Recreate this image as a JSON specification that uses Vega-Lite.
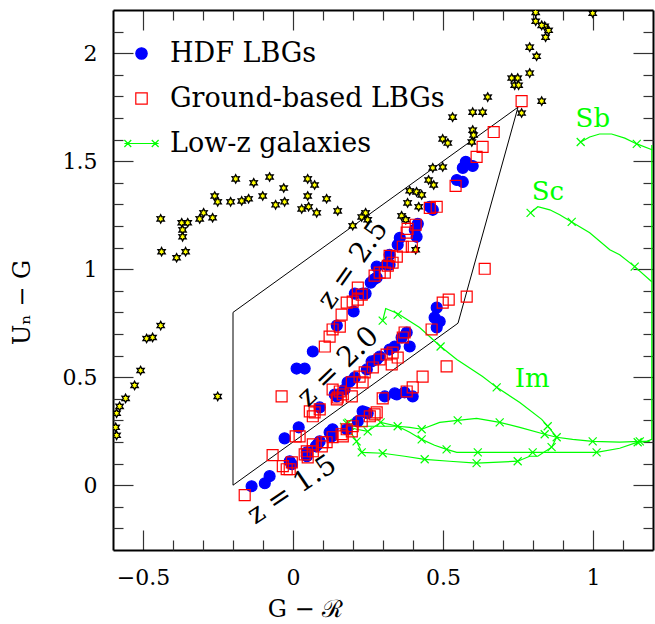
{
  "$schema": "https://vega.github.io/schema/vega-lite/v6.json",
  "width": 540,
  "height": 540,
  "autosize": {"type": "none"},
  "padding": {"left": 113, "top": 10, "right": 2, "bottom": 74},
  "background": "white",
  "config": {
    "view": {"stroke": null},
    "axis": {
      "grid": false,
      "ticks": true,
      "domainColor": "black",
      "domainWidth": 2,
      "tickColor": "#333333",
      "tickWidth": 1.2,
      "labelFont": "DejaVu Serif",
      "labelFontSize": 22,
      "labelColor": "black",
      "titleFont": "DejaVu Serif",
      "titleFontSize": 24,
      "titleFontWeight": "normal",
      "titleColor": "black",
      "labelOverlap": false,
      "labelFlush": false
    },
    "legend": {
      "orient": "none",
      "legendX": 15,
      "legendY": 30,
      "padding": 0,
      "labelFont": "DejaVu Serif",
      "labelFontSize": 27,
      "labelColor": "black",
      "labelOffset": 15,
      "labelLimit": 500,
      "symbolSize": 130,
      "symbolStrokeWidth": 1.2,
      "symbolOpacity": 1,
      "rowPadding": 17
    }
  },
  "datasets": {
    "poly": [
      {"i": 0, "x": -0.2, "y": 0.0},
      {"i": 1, "x": -0.2, "y": 0.8},
      {"i": 2, "x": 0.75, "y": 1.75},
      {"i": 3, "x": 0.55, "y": 0.75},
      {"i": 4, "x": -0.2, "y": 0.0}
    ],
    "stars": [
      {"x": -0.441, "y": 1.233}, {"x": -0.438, "y": 1.081}, {"x": -0.388, "y": 1.053}, {"x": -0.358, "y": 1.081},
      {"x": -0.371, "y": 1.215}, {"x": -0.351, "y": 1.215}, {"x": -0.368, "y": 1.182}, {"x": -0.368, "y": 1.150},
      {"x": -0.311, "y": 1.233}, {"x": -0.298, "y": 1.261}, {"x": -0.268, "y": 1.238}, {"x": -0.261, "y": 1.339},
      {"x": -0.251, "y": 1.312}, {"x": -0.208, "y": 1.312}, {"x": -0.191, "y": 1.418}, {"x": -0.171, "y": 1.316},
      {"x": -0.148, "y": 1.326}, {"x": -0.131, "y": 1.400}, {"x": -0.101, "y": 1.339}, {"x": -0.078, "y": 1.427},
      {"x": -0.058, "y": 1.298}, {"x": -0.031, "y": 1.376}, {"x": -0.028, "y": 1.312}, {"x": 0.029, "y": 1.279},
      {"x": 0.049, "y": 1.418}, {"x": 0.072, "y": 1.390}, {"x": 0.049, "y": 1.339}, {"x": 0.052, "y": 1.289},
      {"x": 0.079, "y": 1.261}, {"x": 0.112, "y": 1.326}, {"x": 0.149, "y": 1.270}, {"x": 0.199, "y": 1.201},
      {"x": 0.229, "y": 1.242}, {"x": 0.242, "y": 1.261}, {"x": 0.249, "y": 1.229}, {"x": -0.441, "y": 0.739},
      {"x": -0.488, "y": 0.679}, {"x": -0.468, "y": 0.684}, {"x": -0.508, "y": 0.531}, {"x": -0.528, "y": 0.462},
      {"x": -0.558, "y": 0.402}, {"x": -0.578, "y": 0.365}, {"x": -0.588, "y": 0.333}, {"x": -0.591, "y": 0.268},
      {"x": -0.588, "y": 0.231}, {"x": -0.251, "y": 0.411}, {"x": 0.362, "y": 1.247}, {"x": 0.376, "y": 1.229},
      {"x": 0.382, "y": 1.307}, {"x": 0.419, "y": 1.289}, {"x": 0.389, "y": 1.363}, {"x": 0.412, "y": 1.358},
      {"x": 0.429, "y": 1.344}, {"x": 0.452, "y": 1.413}, {"x": 0.469, "y": 1.390}, {"x": 0.466, "y": 1.469},
      {"x": 0.499, "y": 1.473}, {"x": 0.499, "y": 1.603}, {"x": 0.516, "y": 1.584}, {"x": 0.599, "y": 1.644},
      {"x": 0.602, "y": 1.621}, {"x": 0.596, "y": 1.589}, {"x": 0.532, "y": 1.704}, {"x": 0.599, "y": 1.727},
      {"x": 0.632, "y": 1.727}, {"x": 0.649, "y": 1.797}, {"x": 0.762, "y": 1.723}, {"x": 0.829, "y": 1.778},
      {"x": 0.729, "y": 1.885}, {"x": 0.749, "y": 1.885}, {"x": 0.739, "y": 1.852}, {"x": 0.752, "y": 1.852},
      {"x": 0.789, "y": 1.908}, {"x": 0.789, "y": 2.028}, {"x": 0.812, "y": 1.986}, {"x": 0.842, "y": 2.074},
      {"x": 0.852, "y": 2.106}, {"x": 0.839, "y": 2.125}, {"x": 0.829, "y": 2.129}, {"x": 0.809, "y": 2.148},
      {"x": 0.809, "y": 2.189}, {"x": 0.999, "y": 2.185}, {"x": 0.409, "y": 1.090}, {"x": 0.406, "y": 1.192}
    ],
    "lbg": [
      {"sample": "HDF LBGs", "x": -0.138, "y": -0.005}, {"sample": "HDF LBGs", "x": -0.094, "y": 0.009},
      {"sample": "HDF LBGs", "x": -0.078, "y": 0.042}, {"sample": "HDF LBGs", "x": -0.004, "y": 0.097},
      {"sample": "HDF LBGs", "x": 0.046, "y": 0.134}, {"sample": "HDF LBGs", "x": 0.076, "y": 0.180},
      {"sample": "HDF LBGs", "x": 0.089, "y": 0.203}, {"sample": "HDF LBGs", "x": 0.122, "y": 0.245},
      {"sample": "HDF LBGs", "x": 0.132, "y": 0.259}, {"sample": "HDF LBGs", "x": 0.082, "y": 0.189},
      {"sample": "HDF LBGs", "x": 0.046, "y": 0.152}, {"sample": "HDF LBGs", "x": -0.011, "y": 0.111},
      {"sample": "HDF LBGs", "x": 0.129, "y": 0.226}, {"sample": "HDF LBGs", "x": 0.179, "y": 0.259},
      {"sample": "HDF LBGs", "x": 0.216, "y": 0.296}, {"sample": "HDF LBGs", "x": 0.249, "y": 0.333},
      {"sample": "HDF LBGs", "x": 0.232, "y": 0.342}, {"sample": "HDF LBGs", "x": 0.242, "y": 0.337},
      {"sample": "HDF LBGs", "x": 0.306, "y": 0.411}, {"sample": "HDF LBGs", "x": 0.339, "y": 0.425},
      {"sample": "HDF LBGs", "x": 0.372, "y": 0.430}, {"sample": "HDF LBGs", "x": 0.399, "y": 0.411},
      {"sample": "HDF LBGs", "x": 0.346, "y": 0.420}, {"sample": "HDF LBGs", "x": -0.028, "y": 0.217},
      {"sample": "HDF LBGs", "x": 0.019, "y": 0.268}, {"sample": "HDF LBGs", "x": 0.089, "y": 0.360},
      {"sample": "HDF LBGs", "x": 0.146, "y": 0.411}, {"sample": "HDF LBGs", "x": 0.172, "y": 0.443},
      {"sample": "HDF LBGs", "x": 0.189, "y": 0.480}, {"sample": "HDF LBGs", "x": 0.139, "y": 0.420},
      {"sample": "HDF LBGs", "x": 0.182, "y": 0.476}, {"sample": "HDF LBGs", "x": 0.246, "y": 0.536},
      {"sample": "HDF LBGs", "x": 0.279, "y": 0.582}, {"sample": "HDF LBGs", "x": 0.289, "y": 0.596},
      {"sample": "HDF LBGs", "x": 0.322, "y": 0.628}, {"sample": "HDF LBGs", "x": 0.339, "y": 0.642},
      {"sample": "HDF LBGs", "x": 0.379, "y": 0.707}, {"sample": "HDF LBGs", "x": 0.389, "y": 0.642},
      {"sample": "HDF LBGs", "x": 0.362, "y": 0.684}, {"sample": "HDF LBGs", "x": 0.012, "y": 0.540},
      {"sample": "HDF LBGs", "x": 0.039, "y": 0.540}, {"sample": "HDF LBGs", "x": 0.479, "y": 0.822},
      {"sample": "HDF LBGs", "x": 0.472, "y": 0.776}, {"sample": "HDF LBGs", "x": 0.489, "y": 0.758},
      {"sample": "HDF LBGs", "x": 0.479, "y": 0.730}, {"sample": "HDF LBGs", "x": 0.206, "y": 0.499},
      {"sample": "HDF LBGs", "x": 0.262, "y": 0.573}, {"sample": "HDF LBGs", "x": 0.066, "y": 0.619},
      {"sample": "HDF LBGs", "x": 0.146, "y": 0.739}, {"sample": "HDF LBGs", "x": 0.202, "y": 0.804},
      {"sample": "HDF LBGs", "x": 0.206, "y": 0.887}, {"sample": "HDF LBGs", "x": 0.232, "y": 0.887},
      {"sample": "HDF LBGs", "x": 0.242, "y": 0.887}, {"sample": "HDF LBGs", "x": 0.259, "y": 0.938},
      {"sample": "HDF LBGs", "x": 0.269, "y": 0.952}, {"sample": "HDF LBGs", "x": 0.279, "y": 1.012},
      {"sample": "HDF LBGs", "x": 0.279, "y": 0.961}, {"sample": "HDF LBGs", "x": 0.312, "y": 1.021},
      {"sample": "HDF LBGs", "x": 0.322, "y": 1.067}, {"sample": "HDF LBGs", "x": 0.349, "y": 1.113},
      {"sample": "HDF LBGs", "x": 0.356, "y": 1.145}, {"sample": "HDF LBGs", "x": 0.406, "y": 1.182},
      {"sample": "HDF LBGs", "x": 0.412, "y": 1.150}, {"sample": "HDF LBGs", "x": 0.416, "y": 1.210},
      {"sample": "HDF LBGs", "x": 0.456, "y": 1.289}, {"sample": "HDF LBGs", "x": 0.466, "y": 1.275},
      {"sample": "HDF LBGs", "x": 0.546, "y": 1.413}, {"sample": "HDF LBGs", "x": 0.566, "y": 1.404},
      {"sample": "HDF LBGs", "x": 0.566, "y": 1.469}, {"sample": "HDF LBGs", "x": 0.576, "y": 1.497},
      {"sample": "HDF LBGs", "x": 0.599, "y": 1.478}, {"sample": "HDF LBGs", "x": 0.322, "y": 1.021},
      {"sample": "Ground-based LBGs", "x": -0.161, "y": -0.046}, {"sample": "Ground-based LBGs", "x": -0.038, "y": 0.411},
      {"sample": "Ground-based LBGs", "x": -0.068, "y": 0.139}, {"sample": "Ground-based LBGs", "x": -0.034, "y": 0.088},
      {"sample": "Ground-based LBGs", "x": -0.011, "y": 0.074}, {"sample": "Ground-based LBGs", "x": -0.004, "y": 0.106},
      {"sample": "Ground-based LBGs", "x": -0.021, "y": 0.074}, {"sample": "Ground-based LBGs", "x": 0.039, "y": 0.143},
      {"sample": "Ground-based LBGs", "x": 0.049, "y": 0.129}, {"sample": "Ground-based LBGs", "x": 0.066, "y": 0.157},
      {"sample": "Ground-based LBGs", "x": 0.096, "y": 0.180}, {"sample": "Ground-based LBGs", "x": 0.112, "y": 0.199},
      {"sample": "Ground-based LBGs", "x": 0.132, "y": 0.222}, {"sample": "Ground-based LBGs", "x": 0.162, "y": 0.236},
      {"sample": "Ground-based LBGs", "x": 0.179, "y": 0.259}, {"sample": "Ground-based LBGs", "x": 0.199, "y": 0.273},
      {"sample": "Ground-based LBGs", "x": 0.229, "y": 0.296}, {"sample": "Ground-based LBGs", "x": 0.256, "y": 0.319},
      {"sample": "Ground-based LBGs", "x": 0.279, "y": 0.337}, {"sample": "Ground-based LBGs", "x": 0.099, "y": 0.199},
      {"sample": "Ground-based LBGs", "x": 0.066, "y": 0.189}, {"sample": "Ground-based LBGs", "x": 0.046, "y": 0.157},
      {"sample": "Ground-based LBGs", "x": 0.166, "y": 0.226}, {"sample": "Ground-based LBGs", "x": 0.196, "y": 0.249},
      {"sample": "Ground-based LBGs", "x": 0.272, "y": 0.328}, {"sample": "Ground-based LBGs", "x": 0.299, "y": 0.402},
      {"sample": "Ground-based LBGs", "x": 0.379, "y": 0.434}, {"sample": "Ground-based LBGs", "x": 0.399, "y": 0.453},
      {"sample": "Ground-based LBGs", "x": 0.432, "y": 0.503}, {"sample": "Ground-based LBGs", "x": 0.512, "y": 0.550},
      {"sample": "Ground-based LBGs", "x": 0.022, "y": 0.226}, {"sample": "Ground-based LBGs", "x": 0.009, "y": 0.226},
      {"sample": "Ground-based LBGs", "x": 0.056, "y": 0.342}, {"sample": "Ground-based LBGs", "x": 0.072, "y": 0.337},
      {"sample": "Ground-based LBGs", "x": 0.089, "y": 0.351}, {"sample": "Ground-based LBGs", "x": 0.066, "y": 0.319},
      {"sample": "Ground-based LBGs", "x": 0.146, "y": 0.397}, {"sample": "Ground-based LBGs", "x": 0.166, "y": 0.420},
      {"sample": "Ground-based LBGs", "x": 0.156, "y": 0.434}, {"sample": "Ground-based LBGs", "x": 0.196, "y": 0.476},
      {"sample": "Ground-based LBGs", "x": 0.232, "y": 0.476}, {"sample": "Ground-based LBGs", "x": 0.132, "y": 0.443},
      {"sample": "Ground-based LBGs", "x": 0.149, "y": 0.406}, {"sample": "Ground-based LBGs", "x": 0.196, "y": 0.411},
      {"sample": "Ground-based LBGs", "x": 0.222, "y": 0.503}, {"sample": "Ground-based LBGs", "x": 0.239, "y": 0.522},
      {"sample": "Ground-based LBGs", "x": 0.266, "y": 0.545}, {"sample": "Ground-based LBGs", "x": 0.289, "y": 0.582},
      {"sample": "Ground-based LBGs", "x": 0.312, "y": 0.605}, {"sample": "Ground-based LBGs", "x": 0.332, "y": 0.614},
      {"sample": "Ground-based LBGs", "x": 0.329, "y": 0.559}, {"sample": "Ground-based LBGs", "x": 0.349, "y": 0.591},
      {"sample": "Ground-based LBGs", "x": 0.366, "y": 0.684}, {"sample": "Ground-based LBGs", "x": 0.372, "y": 0.707},
      {"sample": "Ground-based LBGs", "x": 0.462, "y": 0.721}, {"sample": "Ground-based LBGs", "x": 0.499, "y": 0.845},
      {"sample": "Ground-based LBGs", "x": 0.519, "y": 0.859}, {"sample": "Ground-based LBGs", "x": 0.579, "y": 0.873},
      {"sample": "Ground-based LBGs", "x": 0.639, "y": 1.002}, {"sample": "Ground-based LBGs", "x": 0.106, "y": 0.642},
      {"sample": "Ground-based LBGs", "x": 0.122, "y": 0.688}, {"sample": "Ground-based LBGs", "x": 0.132, "y": 0.721},
      {"sample": "Ground-based LBGs", "x": 0.156, "y": 0.734}, {"sample": "Ground-based LBGs", "x": 0.162, "y": 0.790},
      {"sample": "Ground-based LBGs", "x": 0.179, "y": 0.845}, {"sample": "Ground-based LBGs", "x": 0.199, "y": 0.850},
      {"sample": "Ground-based LBGs", "x": 0.216, "y": 0.859}, {"sample": "Ground-based LBGs", "x": 0.216, "y": 0.915},
      {"sample": "Ground-based LBGs", "x": 0.229, "y": 0.882}, {"sample": "Ground-based LBGs", "x": 0.272, "y": 0.970},
      {"sample": "Ground-based LBGs", "x": 0.289, "y": 0.984}, {"sample": "Ground-based LBGs", "x": 0.306, "y": 0.984},
      {"sample": "Ground-based LBGs", "x": 0.316, "y": 1.016}, {"sample": "Ground-based LBGs", "x": 0.332, "y": 1.030},
      {"sample": "Ground-based LBGs", "x": 0.322, "y": 1.062}, {"sample": "Ground-based LBGs", "x": 0.346, "y": 1.058},
      {"sample": "Ground-based LBGs", "x": 0.366, "y": 1.104}, {"sample": "Ground-based LBGs", "x": 0.379, "y": 1.169},
      {"sample": "Ground-based LBGs", "x": 0.396, "y": 1.104}, {"sample": "Ground-based LBGs", "x": 0.382, "y": 1.187},
      {"sample": "Ground-based LBGs", "x": 0.409, "y": 1.206}, {"sample": "Ground-based LBGs", "x": 0.456, "y": 1.284},
      {"sample": "Ground-based LBGs", "x": 0.479, "y": 1.289}, {"sample": "Ground-based LBGs", "x": 0.542, "y": 1.386},
      {"sample": "Ground-based LBGs", "x": 0.612, "y": 1.520}, {"sample": "Ground-based LBGs", "x": 0.632, "y": 1.566},
      {"sample": "Ground-based LBGs", "x": 0.669, "y": 1.635}, {"sample": "Ground-based LBGs", "x": 0.762, "y": 1.778}
    ],
    "tracks": [
      {"track": "Sb", "i": 0, "x": 0.959, "y": 1.589}, {"track": "Sb", "i": 1, "x": 0.989, "y": 1.612},
      {"track": "Sb", "i": 2, "x": 1.022, "y": 1.626}, {"track": "Sb", "i": 3, "x": 1.062, "y": 1.626},
      {"track": "Sb", "i": 4, "x": 1.106, "y": 1.607}, {"track": "Sb", "i": 5, "x": 1.146, "y": 1.580},
      {"track": "Sb", "i": 6, "x": 1.199, "y": 1.552},
      {"track": "Sc", "i": 0, "x": 0.792, "y": 1.261}, {"track": "Sc", "i": 1, "x": 0.816, "y": 1.289},
      {"track": "Sc", "i": 2, "x": 0.856, "y": 1.275}, {"track": "Sc", "i": 3, "x": 0.889, "y": 1.252},
      {"track": "Sc", "i": 4, "x": 0.929, "y": 1.219}, {"track": "Sc", "i": 5, "x": 0.989, "y": 1.169},
      {"track": "Sc", "i": 6, "x": 1.056, "y": 1.090}, {"track": "Sc", "i": 7, "x": 1.089, "y": 1.067},
      {"track": "Sc", "i": 8, "x": 1.139, "y": 1.012}, {"track": "Sc", "i": 9, "x": 1.196, "y": 0.942},
      {"track": "Im", "i": 0, "x": 0.299, "y": 0.762}, {"track": "Im", "i": 1, "x": 0.309, "y": 0.818},
      {"track": "Im", "i": 2, "x": 0.349, "y": 0.795}, {"track": "Im", "i": 3, "x": 0.422, "y": 0.730},
      {"track": "Im", "i": 4, "x": 0.492, "y": 0.642}, {"track": "Im", "i": 5, "x": 0.546, "y": 0.582},
      {"track": "Im", "i": 6, "x": 0.632, "y": 0.503}, {"track": "Im", "i": 7, "x": 0.679, "y": 0.453},
      {"track": "Im", "i": 8, "x": 0.756, "y": 0.383}, {"track": "Im", "i": 9, "x": 0.829, "y": 0.305},
      {"track": "Im", "i": 10, "x": 0.849, "y": 0.273}, {"track": "Im", "i": 11, "x": 0.879, "y": 0.222},
      {"track": "Im", "i": 12, "x": 0.932, "y": 0.212}, {"track": "Im", "i": 13, "x": 0.999, "y": 0.203},
      {"track": "Im", "i": 14, "x": 1.089, "y": 0.199}, {"track": "Im", "i": 15, "x": 1.156, "y": 0.203},
      {"track": "Im", "i": 16, "x": 1.179, "y": 0.203}, {"track": "Im", "i": 17, "x": 1.196, "y": 0.212},
      {"track": "Im", "i": 18, "x": 1.196, "y": 1.575},
      {"track": "M", "i": 0, "x": 0.179, "y": 0.273}, {"track": "M", "i": 1, "x": 0.212, "y": 0.259},
      {"track": "M", "i": 2, "x": 0.249, "y": 0.249}, {"track": "M", "i": 3, "x": 0.292, "y": 0.291},
      {"track": "M", "i": 4, "x": 0.349, "y": 0.273}, {"track": "M", "i": 5, "x": 0.389, "y": 0.268},
      {"track": "M", "i": 6, "x": 0.429, "y": 0.259}, {"track": "M", "i": 7, "x": 0.489, "y": 0.291},
      {"track": "M", "i": 8, "x": 0.549, "y": 0.300}, {"track": "M", "i": 9, "x": 0.612, "y": 0.309},
      {"track": "M", "i": 10, "x": 0.689, "y": 0.291}, {"track": "M", "i": 11, "x": 0.756, "y": 0.268},
      {"track": "M", "i": 12, "x": 0.839, "y": 0.236}, {"track": "M", "i": 13, "x": 0.879, "y": 0.222},
      {"track": "F", "i": 0, "x": 0.179, "y": 0.273}, {"track": "F", "i": 1, "x": 0.349, "y": 0.273},
      {"track": "F", "i": 2, "x": 0.389, "y": 0.245}, {"track": "F", "i": 3, "x": 0.429, "y": 0.212},
      {"track": "F", "i": 4, "x": 0.472, "y": 0.185}, {"track": "F", "i": 5, "x": 0.512, "y": 0.166},
      {"track": "F", "i": 6, "x": 0.546, "y": 0.152}, {"track": "F", "i": 7, "x": 0.616, "y": 0.152},
      {"track": "F", "i": 8, "x": 0.799, "y": 0.152}, {"track": "F", "i": 9, "x": 1.012, "y": 0.152},
      {"track": "F", "i": 10, "x": 1.089, "y": 0.171}, {"track": "F", "i": 11, "x": 1.149, "y": 0.199},
      {"track": "F", "i": 12, "x": 1.189, "y": 0.203},
      {"track": "L", "i": 0, "x": 0.179, "y": 0.273}, {"track": "L", "i": 1, "x": 0.212, "y": 0.203},
      {"track": "L", "i": 2, "x": 0.229, "y": 0.152}, {"track": "L", "i": 3, "x": 0.299, "y": 0.148},
      {"track": "L", "i": 4, "x": 0.372, "y": 0.134}, {"track": "L", "i": 5, "x": 0.439, "y": 0.120},
      {"track": "L", "i": 6, "x": 0.522, "y": 0.111}, {"track": "L", "i": 7, "x": 0.612, "y": 0.102},
      {"track": "L", "i": 8, "x": 0.749, "y": 0.111}, {"track": "L", "i": 9, "x": 0.789, "y": 0.134},
      {"track": "L", "i": 10, "x": 0.816, "y": 0.134}, {"track": "L", "i": 11, "x": 0.862, "y": 0.176},
      {"track": "L", "i": 12, "x": 0.879, "y": 0.222}
    ],
    "markers": [
      {"x": 0.959, "y": 1.589}, {"x": 1.146, "y": 1.580},
      {"x": 0.792, "y": 1.261}, {"x": 0.929, "y": 1.219}, {"x": 1.139, "y": 1.012},
      {"x": 0.299, "y": 0.762}, {"x": 0.349, "y": 0.790}, {"x": 0.492, "y": 0.642}, {"x": 0.679, "y": 0.453},
      {"x": 0.849, "y": 0.273}, {"x": 0.879, "y": 0.222}, {"x": 0.999, "y": 0.203}, {"x": 1.156, "y": 0.203},
      {"x": 0.249, "y": 0.249}, {"x": 0.292, "y": 0.291}, {"x": 0.349, "y": 0.273}, {"x": 0.429, "y": 0.259},
      {"x": 0.549, "y": 0.300}, {"x": 0.689, "y": 0.291}, {"x": 0.839, "y": 0.236},
      {"x": 0.429, "y": 0.212}, {"x": 0.512, "y": 0.166}, {"x": 0.616, "y": 0.152}, {"x": 0.799, "y": 0.152},
      {"x": 1.012, "y": 0.152}, {"x": 1.149, "y": 0.199},
      {"x": 0.212, "y": 0.203}, {"x": 0.229, "y": 0.152}, {"x": 0.299, "y": 0.148}, {"x": 0.439, "y": 0.120},
      {"x": 0.612, "y": 0.102}, {"x": 0.749, "y": 0.111}, {"x": 0.862, "y": 0.176},
      {"x": 0.170, "y": 0.270}, {"x": 0.180, "y": 0.285}, {"x": 0.190, "y": 0.275}, {"x": 0.175, "y": 0.260},
      {"x": 0.185, "y": 0.290}
    ],
    "tracklabels": [
      {"text": "Sb", "x": 0.942, "y": 1.658},
      {"text": "Sc", "x": 0.796, "y": 1.321},
      {"text": "Im", "x": 0.739, "y": 0.453}
    ],
    "zlabels": [
      {"z": "1.5", "text": "z = 1.5", "x": -0.003, "y": -0.023},
      {"z": "2.0", "text": "z = 2.0", "x": 0.151, "y": 0.547},
      {"z": "2.5", "text": "z = 2.5", "x": 0.201, "y": 1.021}
    ]
  },
  "resolve": {"axis": {"x": "independent", "y": "independent"}},
  "layer": [
    {
      "data": {"name": "poly"},
      "mark": {"type": "line", "color": "black", "strokeWidth": 1},
      "encoding": {
        "x": {"field": "x", "type": "quantitative", "scale": {"domain": [-0.6, 1.2], "nice": false, "zero": false},
          "axis": {"orient": "bottom", "values": [-0.5, 0, 0.5, 1], "format": "~g",
            "title": "G − ℛ", "ticks": true, "tickSize": -20,
            "labelPadding": 47, "labelBaseline": "middle",
            "titleX": 192, "titleY": 59, "titleBaseline": "middle"}},
        "y": {"field": "y", "type": "quantitative", "scale": {"domain": [-0.3, 2.2], "nice": false, "zero": false},
          "axis": {"orient": "left", "values": [0, 0.5, 1, 1.5, 2], "format": "~g",
            "title": "Uₙ − G", "ticks": true, "tickSize": -20,
            "labelPadding": 36, "labelAlign": "right", "labelBaseline": "middle",
            "titleX": -91, "titleY": 292, "titleAngle": -90, "titleAlign": "center", "titleBaseline": "middle"}},
        "order": {"field": "i"}
      }
    },
    {
      "data": {"name": "stars"},
      "mark": {"type": "point", "shape": "M0,-1L0.275,-0.476L0.866,-0.5L0.55,0L0.866,0.5L0.275,0.476L0,1L-0.275,0.476L-0.866,0.5L-0.55,0L-0.866,-0.5L-0.275,-0.476Z",
        "size": 70, "filled": true, "fill": "#ffff00", "stroke": "black", "strokeWidth": 1.3, "opacity": 1, "clip": true},
      "encoding": {
        "x": {"field": "x", "type": "quantitative", "scale": {"domain": [-0.6, 1.2], "nice": false, "zero": false},
          "axis": {"orient": "top", "values": [-0.5, 0, 0.5, 1], "title": null, "labels": false, "ticks": true, "tickSize": -20}},
        "y": {"field": "y", "type": "quantitative", "scale": {"domain": [-0.3, 2.2], "nice": false, "zero": false},
          "axis": {"orient": "right", "values": [0, 0.5, 1, 1.5, 2], "title": null, "labels": false, "ticks": true, "tickSize": -20}}
      }
    },
    {
      "data": {"name": "tracks"},
      "mark": {"type": "line", "color": "#00ff00", "strokeWidth": 1.2, "clip": true},
      "encoding": {
        "x": {"field": "x", "type": "quantitative", "scale": {"domain": [-0.6, 1.2], "nice": false, "zero": false},
          "axis": {"orient": "bottom", "values": [-0.4, -0.3, -0.2, -0.1, 0.1, 0.2, 0.3, 0.4, 0.6, 0.7, 0.8, 0.9, 1.1], "title": null, "labels": false, "domain": false, "ticks": true, "tickSize": -10}},
        "y": {"field": "y", "type": "quantitative", "scale": {"domain": [-0.3, 2.2], "nice": false, "zero": false},
          "axis": {"orient": "left", "values": [-0.2, -0.1, 0.1, 0.2, 0.3, 0.4, 0.6, 0.7, 0.8, 0.9, 1.1, 1.2, 1.3, 1.4, 1.6, 1.7, 1.8, 1.9, 2.1], "title": null, "labels": false, "domain": false, "ticks": true, "tickSize": -10}},
        "detail": {"field": "track"},
        "order": {"field": "i"}
      }
    },
    {
      "data": {"name": "markers"},
      "mark": {"type": "point", "shape": "M-1,-1L1,1M-1,1L1,-1", "size": 64, "filled": false, "stroke": "#00ff00", "strokeWidth": 1.2, "opacity": 1, "clip": true},
      "encoding": {
        "x": {"field": "x", "type": "quantitative", "scale": {"domain": [-0.6, 1.2], "nice": false, "zero": false},
          "axis": {"orient": "top", "values": [-0.4, -0.3, -0.2, -0.1, 0.1, 0.2, 0.3, 0.4, 0.6, 0.7, 0.8, 0.9, 1.1], "title": null, "labels": false, "domain": false, "ticks": true, "tickSize": -10}},
        "y": {"field": "y", "type": "quantitative", "scale": {"domain": [-0.3, 2.2], "nice": false, "zero": false},
          "axis": {"orient": "right", "values": [-0.2, -0.1, 0.1, 0.2, 0.3, 0.4, 0.6, 0.7, 0.8, 0.9, 1.1, 1.2, 1.3, 1.4, 1.6, 1.7, 1.8, 1.9, 2.1], "title": null, "labels": false, "domain": false, "ticks": true, "tickSize": -10}}
      }
    },
    {
      "data": {"name": "lbg"},
      "mark": {"type": "point", "size": 120, "strokeWidth": 1.2, "opacity": 1, "clip": true},
      "encoding": {
        "x": {"field": "x", "type": "quantitative", "scale": {"domain": [-0.6, 1.2], "nice": false, "zero": false}, "axis": null},
        "y": {"field": "y", "type": "quantitative", "scale": {"domain": [-0.3, 2.2], "nice": false, "zero": false}, "axis": null},
        "shape": {"field": "sample", "type": "nominal",
          "scale": {"domain": ["HDF LBGs", "Ground-based LBGs", "Low-z galaxies"],
            "range": ["circle", "square", "M-3,0L3,0M-3,-0.62L-1.8,0.62M-3,0.62L-1.8,-0.62M1.8,-0.62L3,0.62M1.8,0.62L3,-0.62"]},
          "legend": {"title": null}},
        "fill": {"field": "sample", "type": "nominal",
          "scale": {"domain": ["HDF LBGs", "Ground-based LBGs", "Low-z galaxies"], "range": ["#0000ff", "transparent", "transparent"]},
          "legend": {"title": null}},
        "stroke": {"field": "sample", "type": "nominal",
          "scale": {"domain": ["HDF LBGs", "Ground-based LBGs", "Low-z galaxies"], "range": ["#0000ff", "#ff0000", "#00ff00"]},
          "legend": {"title": null}}
      }
    },
    {
      "data": {"name": "tracklabels"},
      "mark": {"type": "text", "font": "DejaVu Serif", "fontSize": 26, "color": "#00ff00", "align": "left", "baseline": "alphabetic"},
      "encoding": {
        "x": {"field": "x", "type": "quantitative", "scale": {"domain": [-0.6, 1.2], "nice": false, "zero": false}, "axis": null},
        "y": {"field": "y", "type": "quantitative", "scale": {"domain": [-0.3, 2.2], "nice": false, "zero": false}, "axis": null},
        "text": {"field": "text"}
      }
    },
    {
      "data": {"name": "zlabels"},
      "transform": [{"filter": "datum.z == '1.5'"}],
      "mark": {"type": "text", "font": "DejaVu Serif", "fontSize": 28, "color": "black", "align": "center", "baseline": "middle", "angle": -34},
      "encoding": {
        "x": {"field": "x", "type": "quantitative", "scale": {"domain": [-0.6, 1.2], "nice": false, "zero": false}, "axis": null},
        "y": {"field": "y", "type": "quantitative", "scale": {"domain": [-0.3, 2.2], "nice": false, "zero": false}, "axis": null},
        "text": {"field": "text"}
      }
    },
    {
      "data": {"name": "zlabels"},
      "transform": [{"filter": "datum.z == '2.0'"}],
      "mark": {"type": "text", "font": "DejaVu Serif", "fontSize": 28, "color": "black", "align": "center", "baseline": "middle", "angle": -44},
      "encoding": {
        "x": {"field": "x", "type": "quantitative", "scale": {"domain": [-0.6, 1.2], "nice": false, "zero": false}, "axis": null},
        "y": {"field": "y", "type": "quantitative", "scale": {"domain": [-0.3, 2.2], "nice": false, "zero": false}, "axis": null},
        "text": {"field": "text"}
      }
    },
    {
      "data": {"name": "zlabels"},
      "transform": [{"filter": "datum.z == '2.5'"}],
      "mark": {"type": "text", "font": "DejaVu Serif", "fontSize": 28, "color": "black", "align": "center", "baseline": "middle", "angle": -55},
      "encoding": {
        "x": {"field": "x", "type": "quantitative", "scale": {"domain": [-0.6, 1.2], "nice": false, "zero": false}, "axis": null},
        "y": {"field": "y", "type": "quantitative", "scale": {"domain": [-0.3, 2.2], "nice": false, "zero": false}, "axis": null},
        "text": {"field": "text"}
      }
    }
  ]
}
